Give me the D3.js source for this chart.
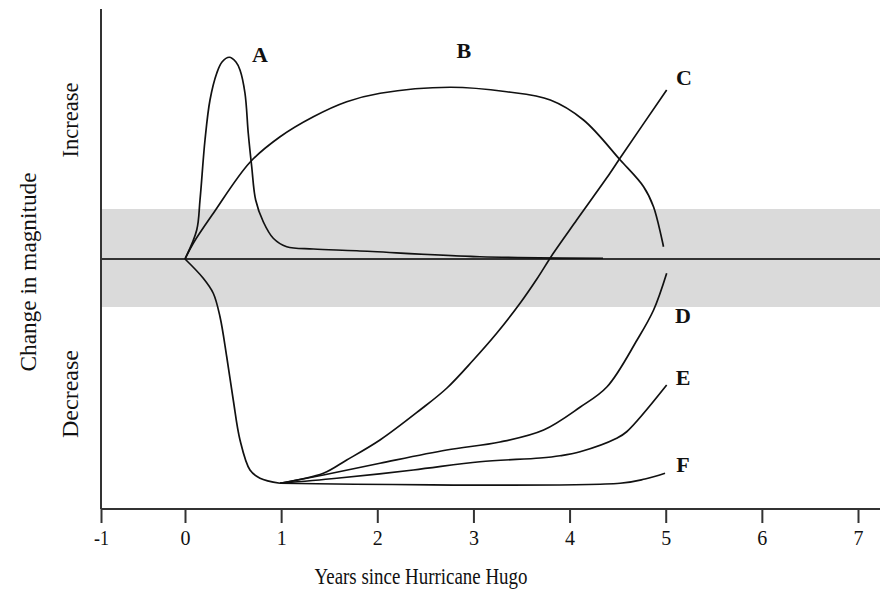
<!DOCTYPE html>
<html>
<head>
<meta charset="utf-8">
<script src="https://cdn.jsdelivr.net/npm/d3@7"></script>
<style>
  body { margin: 0; background: #fff; }
  svg text { font-family: "Liberation Serif", "Times New Roman", serif; fill: #111; }
</style>
</head>
<body>
<div id="chart"></div>
<script>
// curve values (years since Hugo, relative change)
var aYears = [0, 0.122, 0.156, 0.208, 0.26, 0.33, 0.385, 0.461, 0.53, 0.572, 0.624, 0.658, 0.694, 0.735, 0.814, 0.918, 1.058, 1.335, 1.786, 3.068, 4.348];
var aVals  = [0, 0.116, 0.236, 0.476, 0.636, 0.743, 0.788, 0.807, 0.788, 0.756, 0.663, 0.503, 0.369, 0.236, 0.149, 0.083, 0.049, 0.04, 0.033, 0.009, 0.003];

var bYears = [0, 0.086, 0.295, 0.676, 0.989, 1.335, 1.682, 2.03, 2.757, 3.347, 3.8, 4.145, 4.527, 4.77, 4.873, 4.977];
var bVals  = [0, 0.063, 0.183, 0.387, 0.489, 0.569, 0.629, 0.663, 0.687, 0.669, 0.636, 0.556, 0.396, 0.289, 0.209, 0.049];

// shared drop for C-F during the first year
var dropYears = [0, 0.19, 0.294, 0.364, 0.434, 0.502, 0.572, 0.676, 0.78, 0.988];
var dropVals  = [0, -0.077, -0.137, -0.231, -0.391, -0.564, -0.724, -0.844, -0.877, -0.897];

var cYears = [0.988, 1.439, 1.682, 2.028, 2.444, 2.722, 2.999, 3.242, 3.485, 3.658, 3.831, 4.074, 4.42, 4.524, 5.01];
var cVals  = [-0.897, -0.857, -0.804, -0.724, -0.604, -0.517, -0.404, -0.297, -0.177, -0.081, 0.023, 0.156, 0.343, 0.403, 0.676];

var dYears = [0.988, 1.439, 2.028, 2.722, 3.276, 3.73, 4.112, 4.39, 4.702, 4.874, 5.01];
var dVals  = [-0.897, -0.864, -0.817, -0.764, -0.732, -0.684, -0.592, -0.511, -0.324, -0.204, -0.057];

var eYears = [0.988, 1.578, 2.375, 3.068, 3.693, 3.901, 4.109, 4.49, 4.594, 5.01];
var eVals  = [-0.897, -0.877, -0.844, -0.811, -0.796, -0.787, -0.771, -0.717, -0.691, -0.504];

var fYears = [0.988, 4.525, 4.785, 4.993];
var fVals  = [-0.897, -0.897, -0.88, -0.857];

var labelNames = ['A', 'B', 'C', 'D', 'E', 'F'];
var labelYears = [0.78, 2.9, 5.19, 5.18, 5.18, 5.18];
var labelVals  = [0.82, 0.836, 0.728, -0.224, -0.472, -0.82];

var xTicks = [-1, 0, 1, 2, 3, 4, 5, 6, 7];
var bandVals = [-0.192, 0.2];

var width = 889, height = 592;

var svg = d3.select('#chart').append('svg')
    .attr('width', width)
    .attr('height', height);

// the -1 tick sits a bit closer to 0 than the others in the original
var x = d3.scaleLinear().domain([-1, 0, 7]).range([101, 185, 858]);
var y = d3.scaleLinear().domain([-1, 1]).range([509, 9]);
var xEnd = 880;

// shaded "no change" band
svg.append('rect')
    .attr('x', x(-1))
    .attr('y', y(bandVals[1]))
    .attr('width', xEnd - x(-1))
    .attr('height', y(bandVals[0]) - y(bandVals[1]))
    .attr('fill', '#dadada');

// zero line
svg.append('line')
    .attr('x1', x(-1)).attr('x2', xEnd)
    .attr('y1', y(0)).attr('y2', y(0))
    .attr('stroke', '#333').attr('stroke-width', 2);

// axes
var xAxis = d3.axisBottom(x).tickValues(xTicks).tickSize(14).tickSizeOuter(0).tickFormat(d3.format('d'));
var gx = svg.append('g')
    .attr('transform', 'translate(0,' + y(-1) + ')')
    .call(xAxis);
gx.select('.domain').remove();
gx.selectAll('.tick line').attr('stroke', '#333').attr('stroke-width', 2);
gx.selectAll('.tick text')
    .attr('y', 21)
    .style('font-family', '"Liberation Serif", serif')
    .style('font-size', '21px')
    .attr('fill', '#222')
    .attr('textLength', function (d) { return d < 0 ? 15 : 10; })
    .attr('lengthAdjust', 'spacingAndGlyphs')
    .text(function (d) { return d; });

svg.append('line')
    .attr('x1', x(-1)).attr('x2', xEnd)
    .attr('y1', y(-1)).attr('y2', y(-1))
    .attr('stroke', '#333').attr('stroke-width', 2);
svg.append('line')
    .attr('x1', x(-1)).attr('x2', x(-1))
    .attr('y1', y(1)).attr('y2', y(-1))
    .attr('stroke', '#333').attr('stroke-width', 2);

// curves
var series = [
    [aYears, aVals], [bYears, bVals], [dropYears, dropVals],
    [cYears, cVals], [dYears, dVals], [eYears, eVals], [fYears, fVals]
];

var line = d3.line()
    .x(function (d) { return x(d[0]); })
    .y(function (d) { return y(d[1]); })
    .curve(d3.curveCatmullRom.alpha(0.5));

svg.selectAll('path.curve')
    .data(series)
    .enter()
    .append('path')
    .classed('curve', true)
    .attr('d', function (s) { return line(d3.zip(s[0], s[1])); })
    .attr('fill', 'none')
    .attr('stroke', '#111')
    .attr('stroke-width', 1.7);

// curve letters
svg.selectAll('text.lab')
    .data(labelNames)
    .enter()
    .append('text')
    .classed('lab', true)
    .attr('x', function (d, i) { return x(labelYears[i]); })
    .attr('y', function (d, i) { return y(labelVals[i]); })
    .attr('text-anchor', 'middle')
    .attr('dy', '0.35em')
    .style('font-size', '22px')
    .style('font-weight', 'bold')
    .text(function (d) { return d; });

// titles
svg.append('text')
    .attr('x', 421).attr('y', 584)
    .attr('text-anchor', 'middle')
    .attr('textLength', 213).attr('lengthAdjust', 'spacingAndGlyphs')
    .style('font-size', '23px')
    .text('Years since Hurricane Hugo');

svg.append('text')
    .attr('transform', 'translate(36,272) rotate(-90)')
    .attr('text-anchor', 'middle')
    .attr('textLength', 199).attr('lengthAdjust', 'spacingAndGlyphs')
    .style('font-size', '23px')
    .text('Change in magnitude');

svg.append('text')
    .attr('transform', 'translate(78,120) rotate(-90)')
    .attr('text-anchor', 'middle')
    .attr('textLength', 75).attr('lengthAdjust', 'spacingAndGlyphs')
    .style('font-size', '23px')
    .text('Increase');

svg.append('text')
    .attr('transform', 'translate(78,394) rotate(-90)')
    .attr('text-anchor', 'middle')
    .attr('textLength', 88).attr('lengthAdjust', 'spacingAndGlyphs')
    .style('font-size', '23px')
    .text('Decrease');
</script>
</body>
</html>
